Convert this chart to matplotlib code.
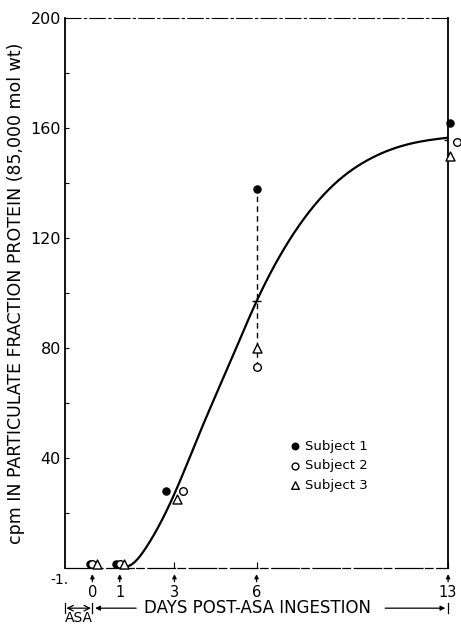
import numpy as np
import matplotlib
matplotlib.use("Agg")
import matplotlib.pyplot as plt
from matplotlib.transforms import offset_copy

# values
days = [0, 1, 3, 6, 13]
subject1 = [1.5, 1.5, 28, 138, 162]
subject2 = [1.5, 1.5, 28, 73, 155]
subject3 = [1.5, 1.5, 25, 80, 150]
subject_labels = ["Subject 1", "Subject 2", "Subject 3"]

# fitted curve as drawn (knots through which the smooth line passes)
curve_days = [1.2, 2, 3, 4, 5, 6, 7, 8, 9, 10, 11, 12, 13]
curve_vals = [0.5, 8, 27, 51, 74, 97, 116, 130.5, 141, 148, 152.5, 155.1, 156.5]

xtick_days = [0, 1, 3, 6, 13]
ytick_major = [40, 80, 120, 160, 200]
ytick_minor = [20, 60, 100, 140, 180]

# horizontal jitter of the markers in points (layout only)
jitter1 = [-2, -3, -6, 0, 1.5]
jitter2 = [0, 0, 6.5, 0, 6.5]
jitter3 = [3, 3, 2, 0, 1.5]


def spline(xk, yk, s0=0.0, s1=1.2, n=400):
    # clamped cubic spline through the knots
    x = np.asarray(xk, float)
    y = np.asarray(yk, float)
    m = len(x)
    h = np.diff(x)
    A = np.zeros((m, m))
    b = np.zeros(m)
    A[0, 0], A[0, 1] = 2 * h[0], h[0]
    b[0] = 6 * ((y[1] - y[0]) / h[0] - s0)
    for i in range(1, m - 1):
        A[i, i - 1] = h[i - 1]
        A[i, i] = 2 * (h[i - 1] + h[i])
        A[i, i + 1] = h[i]
        b[i] = 6 * ((y[i + 1] - y[i]) / h[i] - (y[i] - y[i - 1]) / h[i - 1])
    A[-1, -2], A[-1, -1] = h[-1], 2 * h[-1]
    b[-1] = 6 * (s1 - (y[-1] - y[-2]) / h[-1])
    M = np.linalg.solve(A, b)
    xs = np.linspace(x[0], x[-1], n)
    i = np.clip(np.searchsorted(x, xs) - 1, 0, m - 2)
    hi = h[i]
    a = x[i + 1] - xs
    c = xs - x[i]
    ys = (M[i] * a ** 3 / (6 * hi) + M[i + 1] * c ** 3 / (6 * hi)
          + (y[i] / hi - M[i] * hi / 6) * a + (y[i + 1] / hi - M[i + 1] * hi / 6) * c)
    return xs, ys


plt.rcParams['font.family'] = ['DejaVu Sans']
fig = plt.figure(figsize=(4.61, 6.24), dpi=100)
ax = fig.add_axes([0.141, 0.0897, 0.831, 0.8814])
ax.set_xlim(-1, 13)
ax.set_ylim(0, 200)

# curve
cx, cy = spline(curve_days, curve_vals)
ax.plot(cx, cy, color='black', lw=1.6, zorder=3)

# dashed range lines and means at days 6 and 13
allv = np.vstack([subject1, subject2, subject3])
for i in (3, 4):
    ax.vlines(days[i], allv[:, i].min(), allv[:, i].max(), colors='black',
              linestyles=(0, (4, 3)), lw=1.0, zorder=2)
    ax.hlines(allv[:, i].mean(), days[i] - 0.15, days[i] + 0.15, colors='black',
              lw=1.0, zorder=2)

for vals, jit, kw in (
        (subject1, jitter1, dict(marker='o', s=26, facecolors='black', edgecolors='black')),
        (subject2, jitter2, dict(marker='o', s=30, facecolors='white', edgecolors='black')),
        (subject3, jitter3, dict(marker='^', s=42, facecolors='white', edgecolors='black'))):
    for d, v, j in zip(days, vals, jit):
        tr = offset_copy(ax.transData, fig=fig, x=j, y=0, units='points')
        ax.scatter([d], [v], transform=tr, linewidths=1.0, zorder=4,
                   clip_on=False, **kw)

# legend
h1 = ax.scatter([], [], marker='o', s=22, facecolors='black', edgecolors='black')
h2 = ax.scatter([], [], marker='o', s=24, facecolors='white', edgecolors='black')
h3 = ax.scatter([], [], marker='^', s=30, facecolors='white', edgecolors='black')
ax.legend([h1, h2, h3], subject_labels, frameon=False, loc='upper left',
          bbox_to_anchor=(0.565, 0.243), fontsize=9.5, handletextpad=0.2,
          labelspacing=0.5, handlelength=1.2, borderaxespad=0)

# spines
for side in ('left', 'right'):
    ax.spines[side].set_linewidth(1.3)
ax.spines['top'].set_linewidth(0.8)
ax.spines['top'].set_linestyle((0, (14, 3, 2, 3)))
ax.spines['bottom'].set_linewidth(0.9)
ax.spines['bottom'].set_linestyle((0, (22, 2, 6, 3)))

# y ticks
ax.set_yticks(ytick_major)
ax.set_yticks(ytick_minor, minor=True)
ax.tick_params(axis='y', which='both', direction='in', length=3, width=0.8,
               labelsize=11.5, pad=3)
ax.set_ylabel("cpm IN PARTICULATE FRACTION PROTEIN (85,000 mol wt)",
              fontsize=12.5, labelpad=4)

# x ticks with arrows underneath
ax.set_xticks(xtick_days)
ax.set_xticklabels([str(d) for d in xtick_days])
ax.tick_params(axis='x', direction='in', length=4, width=0.8, labelsize=10.5,
               pad=12)
xtr = ax.get_xaxis_transform()
for d in xtick_days:
    ax.annotate('', xy=(d, -0.006), xycoords=xtr, xytext=(d, -0.030),
                textcoords=xtr, arrowprops=dict(arrowstyle='-|>', lw=0.9,
                                                mutation_scale=6, color='black'))
ax.text(-1.2, -0.022, "-1.", transform=xtr, ha='center', va='center',
        fontsize=10)

# bottom annotation
yb = -0.073
ax.annotate('', xy=(-0.95, yb), xycoords=xtr, xytext=(-0.05, yb), textcoords=xtr,
            arrowprops=dict(arrowstyle='<->', lw=0.9, color='black',
                            shrinkA=0, shrinkB=0))
ax.annotate('', xy=(0.1, yb), xycoords=xtr, xytext=(1.6, yb), textcoords=xtr,
            arrowprops=dict(arrowstyle='-|>', lw=0.9, color='black',
                            mutation_scale=7, shrinkA=0, shrinkB=0))
ax.annotate('', xy=(12.9, yb), xycoords=xtr, xytext=(10.7, yb), textcoords=xtr,
            arrowprops=dict(arrowstyle='-|>', lw=0.9, color='black',
                            mutation_scale=7, shrinkA=0, shrinkB=0))
for xb in (-1, 0, 13):
    ax.plot([xb, xb], [yb - 0.009, yb + 0.009], transform=xtr, color='black',
            lw=0.9, clip_on=False)
ax.text(6.05, yb, "DAYS POST-ASA INGESTION", transform=xtr, ha='center',
        va='center', fontsize=12)
ax.text(-0.5, yb - 0.018, "ASA", transform=xtr, ha='center', va='center',
        fontsize=10)

fig.savefig("out.png", dpi=100)
